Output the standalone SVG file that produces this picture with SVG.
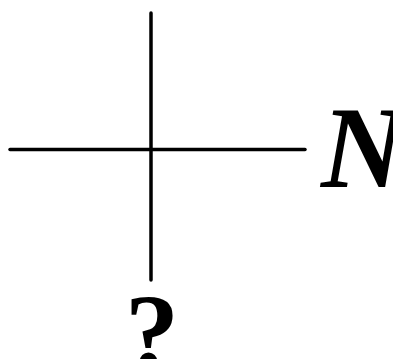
<svg xmlns="http://www.w3.org/2000/svg" width="393" height="359" viewBox="0 0 393 359">
<style>
.ln{stroke:#000;stroke-width:3.5;stroke-linecap:round;fill:none}
.lbl{font-family:"Liberation Serif","DejaVu Serif",serif;font-weight:bold;fill:#000}
</style>
<rect width="393" height="359" fill="#fff"/>
<g id="connectors">
<line class="ln" x1="151" y1="13" x2="151" y2="280"/>
<line class="ln" x1="10" y1="149.5" x2="305" y2="149.5"/>
</g>
<g id="node-N">
<text class="lbl" x="321" y="187" font-size="116" font-style="italic">N</text>
</g>
<g id="node-q">
<text class="lbl" x="152" y="368" font-size="108" text-anchor="middle">?</text>
</g>
</svg>
